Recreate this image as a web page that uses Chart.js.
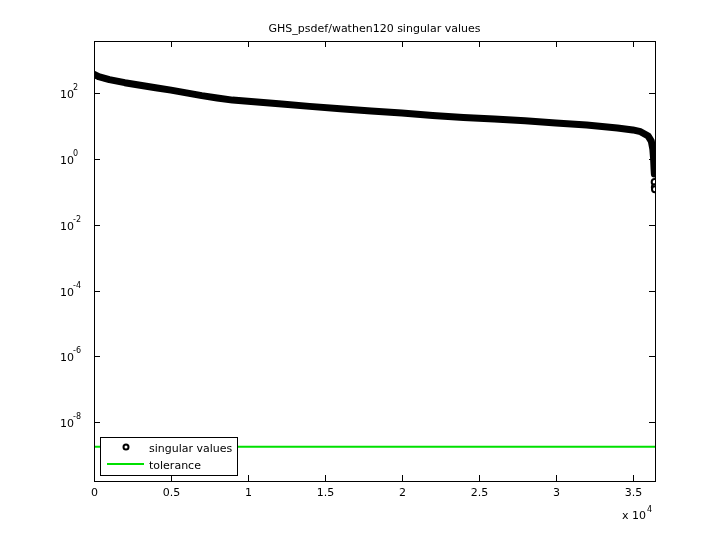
<!DOCTYPE html>
<html>
<head>
<script src="https://cdn.jsdelivr.net/npm/chart.js@4"></script>
<style>body{margin:0;background:#fff}#c{display:block}</style>
</head>
<body>
<canvas id="c" width="720" height="540"></canvas>
<script>
// singular value index / value
const idx = [0, 300, 1000, 2000, 3000, 4000, 5000, 6000, 7000, 8000, 9000, 10000, 12000, 14000, 16000, 18000, 20000, 22000, 24000, 26000, 28000, 30000, 32000, 34000, 35000, 35500, 36000, 36200, 36300, 36350, 36380, 36400];
const sv = [380, 320, 260, 210, 175, 148, 125, 103, 85, 72, 62, 57, 48, 40, 34, 29, 25, 21, 18.5, 16.5, 14.5, 12.5, 10.8, 8.8, 7.7, 6.8, 5.0, 3.5, 2.0, 1.0, 0.5, 0.35];
const tailIdx = [36420, 36430, 36441];
const tailSv = [0.2, 0.14, 0.12];
const tolerance = 1.8e-9;
const xTicks = [0, 5000, 10000, 15000, 20000, 25000, 30000, 35000];
const xTickLabels = ["0", "0.5", "1", "1.5", "2", "2.5", "3", "3.5"];
const yTickExp = [-8, -6, -4, -2, 0, 2];
const xMax = 36441;

const pts = idx.map((x, i) => ({x: x, y: sv[i]}));
const tail = tailIdx.map((x, i) => ({x: x, y: tailSv[i]}));

const frame = {
  id: "frame",
  afterDraw(chart) {
    const ctx = chart.ctx, a = chart.chartArea;
    const xs = chart.scales.x, ys = chart.scales.y;
    ctx.save();
    ctx.strokeStyle = "#000"; ctx.lineWidth = 1;
    ctx.strokeRect(a.left + 0.5, a.top + 0.5, a.right - a.left, a.bottom - a.top);
    ctx.fillStyle = "#000";
    ctx.font = "11px 'DejaVu Sans', sans-serif";
    ctx.textAlign = "center"; ctx.textBaseline = "top";
    xTicks.forEach((v, i) => {
      const px = Math.round(xs.getPixelForValue(v)) + 0.5;
      ctx.beginPath();
      ctx.moveTo(px, a.bottom); ctx.lineTo(px, a.bottom - 6);
      ctx.moveTo(px, a.top); ctx.lineTo(px, a.top + 6);
      ctx.stroke();
      ctx.fillText(xTickLabels[i], px, a.bottom + 7);
    });
    ctx.textAlign = "left";
    ctx.fillText("x 10", a.right - 33, a.bottom + 30);
    ctx.font = "8px 'DejaVu Sans', sans-serif";
    ctx.fillText("4", a.right - 8, a.bottom + 25);
    yTickExp.forEach(e => {
      const py = Math.round(ys.getPixelForValue(Math.pow(10, e))) + 0.5;
      ctx.beginPath();
      ctx.moveTo(a.left, py); ctx.lineTo(a.left + 6, py);
      ctx.moveTo(a.right, py); ctx.lineTo(a.right - 6, py);
      ctx.stroke();
      ctx.font = "11px 'DejaVu Sans', sans-serif";
      ctx.textAlign = "left"; ctx.textBaseline = "middle";
      ctx.fillText("10", a.left - 34, py + 2);
      ctx.font = "8px 'DejaVu Sans', sans-serif";
      ctx.fillText(String(e), a.left - 21, py - 6);
    });
    ctx.font = "11px 'DejaVu Sans', sans-serif";
    ctx.textAlign = "center"; ctx.textBaseline = "bottom";
    ctx.fillText("GHS_psdef/wathen120 singular values", (a.left + a.right) / 2, a.top - 6);
    // legend
    const lx = a.left + 6, ly = a.bottom - 44;
    ctx.fillStyle = "#fff";
    ctx.fillRect(lx, ly, 137, 38);
    ctx.strokeRect(lx + 0.5, ly + 0.5, 137, 38);
    ctx.beginPath(); ctx.arc(lx + 26, ly + 10, 2.5, 0, Math.PI * 2);
    ctx.lineWidth = 2; ctx.stroke();
    ctx.strokeStyle = "#00e000"; ctx.lineWidth = 2;
    ctx.beginPath(); ctx.moveTo(lx + 7, ly + 27); ctx.lineTo(lx + 44, ly + 27); ctx.stroke();
    ctx.fillStyle = "#000"; ctx.textAlign = "left"; ctx.textBaseline = "middle";
    ctx.fillText("singular values", lx + 49, ly + 12);
    ctx.fillText("tolerance", lx + 49, ly + 29);
    ctx.restore();
  }
};

new Chart(document.getElementById("c"), {
  type: "scatter",
  data: {
    datasets: [
      {data: [{x: 0, y: tolerance}, {x: xMax, y: tolerance}], showLine: true, borderColor: "#00e000", borderWidth: 2, pointRadius: 0},
      {data: pts, showLine: true, borderColor: "#000", borderWidth: 7, borderCapStyle: "round", borderJoinStyle: "round", pointRadius: 0},
      {data: tail, showLine: false, borderColor: "#000", pointRadius: 3, pointBorderWidth: 2, pointBorderColor: "#000", pointBackgroundColor: "#fff"}
    ]
  },
  options: {
    responsive: false, animation: false,
    layout: {padding: {left: 94, right: 65, top: 41, bottom: 59}},
    plugins: {legend: {display: false}, tooltip: {enabled: false}},
    scales: {
      x: {type: "linear", display: false, min: 0, max: xMax},
      y: {type: "logarithmic", display: false, min: Math.pow(10, -9.79), max: Math.pow(10, 3.59)}
    }
  },
  plugins: [frame]
});
</script>
</body>
</html>
